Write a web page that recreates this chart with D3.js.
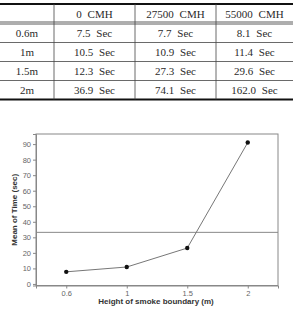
<!DOCTYPE html>
<html>
<head>
<meta charset="utf-8">
<script src="https://cdn.jsdelivr.net/npm/d3@7"></script>
<style>
  body { margin: 0; background: #fff; }
  svg { display: block; }
  .cell { font-family: "Liberation Serif", "DejaVu Serif", serif; font-size: 11px; fill: #2a2a2a; word-spacing: 3px; }
  .tick text { font-family: "Liberation Sans", Arial, sans-serif; font-size: 7.5px; fill: #666; }
  .title { font-family: "Liberation Sans", Arial, sans-serif; font-size: 8px; font-weight: bold; fill: #333; }
</style>
</head>
<body>
<svg id="chart" width="293" height="311"></svg>
<script>
// Table data
const flows = ["0 CMH", "27500 CMH", "55000 CMH"];
const heights = ["0.6m", "1m", "1.5m", "2m"];
const times = [
    [7.5, 7.7, 8.1],
    [10.5, 10.9, 11.4],
    [12.3, 27.3, 29.6],
    [36.9, 74.1, 162.0]
];

// Chart data (mean of time per height)
const xLabels = ["0.6", "1", "1.5", "2"];
const meanTime = [7.8, 10.9, 23.1, 91.0];
const grandMean = 33.2;
const yTicks = [0, 10, 20, 30, 40, 50, 60, 70, 80, 90];

const svg = d3.select("#chart");

// ---- Table ----
const colEdges = [0, 54, 135, 216, 293];
const tTop = 4, headH = 19, rowTop = 23.5, rowH = 19;
const rowY = d3.scaleBand().domain(heights).range([rowTop, rowTop + rowH * heights.length]);
const table = svg.append("g");

// header text
table.selectAll("text.head")
    .data(flows)
    .enter().append("text")
    .attr("class", "cell")
    .attr("x", (d, i) => (colEdges[i + 1] + colEdges[i + 2]) / 2)
    .attr("y", tTop + headH / 2 + 4)
    .attr("text-anchor", "middle")
    .text(d => d);

// row labels and values
const rows = table.selectAll("g.row")
    .data(heights)
    .enter().append("g")
    .attr("transform", d => `translate(0,${rowY(d) + rowY.bandwidth() / 2 + 4})`);

rows.append("text")
    .attr("class", "cell")
    .attr("x", (colEdges[0] + colEdges[1]) / 2)
    .attr("text-anchor", "middle")
    .text(d => d);

rows.selectAll("text.val")
    .data((d, i) => times[i])
    .enter().append("text")
    .attr("class", "cell")
    .attr("x", (d, i) => (colEdges[i + 1] + colEdges[i + 2]) / 2)
    .attr("text-anchor", "middle")
    .text(d => d.toFixed(1) + " Sec");

const tBottom = rowTop + rowH * heights.length;
// horizontal rules
table.append("line").attr("x1", 0).attr("x2", 293).attr("y1", tTop).attr("y2", tTop)
    .attr("stroke", "#111").attr("stroke-width", 2);
table.append("line").attr("x1", 0).attr("x2", 293).attr("y1", rowTop - 1.5).attr("y2", rowTop - 1.5)
    .attr("stroke", "#333").attr("stroke-width", 0.8);
table.append("line").attr("x1", 0).attr("x2", 293).attr("y1", rowTop + 0.5).attr("y2", rowTop + 0.5)
    .attr("stroke", "#333").attr("stroke-width", 0.8);
table.selectAll("line.rule")
    .data(heights.slice(1))
    .enter().append("line")
    .attr("x1", 0).attr("x2", 293)
    .attr("y1", d => rowY(d)).attr("y2", d => rowY(d))
    .attr("stroke", "#444").attr("stroke-width", 0.8);
table.append("line").attr("x1", 0).attr("x2", 293).attr("y1", tBottom).attr("y2", tBottom)
    .attr("stroke", "#111").attr("stroke-width", 2);
// vertical rules
table.selectAll("line.col")
    .data(colEdges.slice(1, 4))
    .enter().append("line")
    .attr("x1", d => d).attr("x2", d => d)
    .attr("y1", tTop).attr("y2", tBottom)
    .attr("stroke", "#444").attr("stroke-width", 0.8);

// ---- Chart ----
const pLeft = 36, pRight = 278, pTop = 134, pBottom = 285.5;
const x = d3.scalePoint().domain(xLabels).range([pLeft, pRight]).padding(0.5);
const y = d3.scaleLinear().domain([-1, 96.5]).range([pBottom, pTop]);

const g = svg.append("g");

// frame
g.append("rect")
    .attr("x", pLeft).attr("y", pTop)
    .attr("width", pRight - pLeft).attr("height", pBottom - pTop)
    .attr("fill", "none").attr("stroke", "#888").attr("stroke-width", 1);

// axes
const yAxis = g.append("g")
    .attr("transform", `translate(${pLeft},0)`)
    .call(d3.axisLeft(y).tickValues(yTicks).tickSize(3).tickPadding(2));
const xAxis = g.append("g")
    .attr("transform", `translate(0,${pBottom})`)
    .call(d3.axisBottom(x).tickSize(3).tickPadding(2));
[yAxis, xAxis].forEach(a => {
    a.select(".domain").attr("stroke", "#888");
    a.selectAll(".tick line").attr("stroke", "#888");
});

// reference line (grand mean)
g.append("line")
    .attr("x1", pLeft).attr("x2", pRight)
    .attr("y1", y(grandMean)).attr("y2", y(grandMean))
    .attr("stroke", "#888").attr("stroke-width", 1);

// line + points
const line = d3.line()
    .x((d, i) => x(xLabels[i]))
    .y(d => y(d));
g.append("path")
    .datum(meanTime)
    .attr("d", line)
    .attr("fill", "none")
    .attr("stroke", "#777")
    .attr("stroke-width", 1);
g.selectAll("circle")
    .data(meanTime)
    .enter().append("circle")
    .attr("cx", (d, i) => x(xLabels[i]))
    .attr("cy", d => y(d))
    .attr("r", 2.2)
    .attr("fill", "#111");

// titles
g.append("text")
    .attr("class", "title")
    .attr("x", (pLeft + pRight) / 2 - 1)
    .attr("y", 304)
    .attr("text-anchor", "middle")
    .text("Height of smoke boundary (m)");
g.append("text")
    .attr("class", "title")
    .attr("transform", `translate(17,${(pTop + pBottom) / 2}) rotate(-90)`)
    .attr("text-anchor", "middle")
    .text("Mean of Time (sec)");
</script>
</body>
</html>
